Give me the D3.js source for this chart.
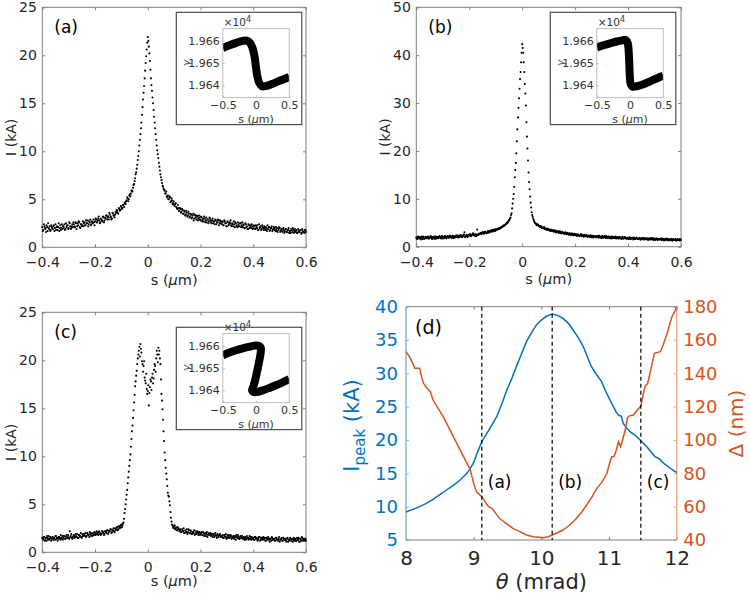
<!DOCTYPE html>
<html><head><meta charset="utf-8">
<script src="https://cdn.jsdelivr.net/npm/d3@7"></script>
<style>body{margin:0;background:#fff} svg{display:block} text{font-family:"DejaVu Sans",sans-serif}</style>
</head><body><svg id="c" width="750" height="595"></svg>
<script>
// ---------- data ----------
const sStart = -0.4, sStep = 0.004;   // sample positions of the current profiles (um); second set sits half a step later
const curA = [2.1,1.8,2.2,1.9,2.3,1.7,2.0,2.2,1.8,2.1,
1.9,2.3,2.0,1.8,2.2,2.1,1.7,2.3,2.0,1.9,
2.2,2.4,1.9,2.1,2.3,2.0,2.5,1.9,2.2,2.1,
2.4,2.1,2.5,2.2,2.3,2.6,2.0,2.4,2.3,2.2,
2.6,2.3,2.5,2.8,2.4,2.6,2.3,2.7,2.5,2.6,
2.7,2.9,2.6,3.0,2.8,2.6,2.9,2.7,3.1,2.8,
3.0,3.3,3.1,2.9,3.4,3.2,3.0,3.5,3.3,3.4,
3.6,3.8,3.5,4.0,3.9,4.2,4.1,4.4,4.6,4.5,
4.9,5.1,5.0,5.5,5.6,5.9,6.2,6.6,7.2,7.8,
8.6,9.5,10.6,11.8,13.0,14.6,16.1,17.6,19.2,20.6,
21.9,20.9,19.4,17.6,16.3,15.0,13.6,12.4,11.2,10.1,
9.3,8.4,7.6,7.0,6.4,6.1,5.9,5.6,5.3,5.4,
5.0,5.2,4.8,4.9,4.6,4.4,4.5,4.2,4.0,4.1,
3.8,4.0,3.7,3.9,3.5,3.7,3.4,3.6,3.3,3.5,
3.2,3.4,3.1,3.5,3.0,3.3,2.9,3.2,3.0,3.1,
2.8,3.1,2.9,2.7,3.0,2.8,2.6,2.9,2.7,3.0,
2.6,2.8,2.5,2.7,2.9,2.4,2.6,2.8,2.5,2.7,
2.4,2.6,2.3,2.7,2.5,2.2,2.6,2.4,2.5,2.3,
2.5,2.2,2.4,2.6,2.3,2.1,2.4,2.2,2.5,2.3,
2.1,2.3,2.0,2.4,2.2,1.9,2.3,2.1,2.0,2.2,
2.0,2.2,1.9,2.1,2.3,1.8,2.0,2.2,1.9,2.1,
1.8,2.0,2.1,1.7,1.9,2.1,1.8,2.0,1.7,1.9,
2.0,1.7,1.9,1.6,1.8,2.0,1.7,1.9,1.6,1.8,
1.7,1.9,1.6,1.8,1.5,1.7,1.9,1.6,1.8,1.7,
1.6,1.8,1.5,1.7,1.6,1.8,1.5,1.7,1.6,1.8,1.6];
const curA2 = [1.7,2.4,2.0,1.6,2.1,2.5,1.9,1.7,2.3,2.0,
2.2,1.7,2.4,2.1,1.8,2.5,2.0,1.8,2.4,2.2,
2.0,1.8,2.5,2.3,1.9,2.6,2.2,2.0,2.4,2.6,
2.2,2.6,1.9,2.5,2.7,2.1,2.4,2.2,2.7,2.5,
2.3,2.8,2.5,2.2,2.7,2.9,2.4,2.6,2.9,2.3,
3.0,2.6,2.8,3.2,2.5,3.0,2.8,3.2,2.6,3.1,
3.3,2.9,3.2,3.6,3.1,2.9,3.6,3.3,3.1,3.7,
3.9,3.6,4.1,3.8,4.3,4.0,4.4,4.2,4.7,4.8,
5.2,4.8,5.4,5.3,5.9,5.8,6.5,6.9,7.6,8.2,
9.1,10.0,11.2,12.4,13.8,15.4,16.8,18.4,19.9,21.3,
21.5,20.2,18.5,16.9,15.6,14.3,13.0,11.8,10.6,9.7,
8.8,8.0,7.3,6.7,6.3,6.0,5.6,5.8,5.2,5.0,
5.3,4.7,5.1,4.5,4.8,4.3,4.6,4.1,4.4,3.8,
4.1,3.6,4.0,3.5,3.8,3.3,3.8,3.2,3.7,3.1,
3.5,3.0,3.3,2.8,3.4,3.1,3.3,2.8,3.3,2.9,
3.2,2.7,3.0,3.2,2.6,3.1,2.9,2.5,3.1,2.8,
2.5,3.0,2.7,2.4,2.8,2.6,2.9,2.3,2.8,2.5,
2.7,2.3,2.8,2.5,2.2,2.7,2.3,2.6,2.8,2.2,
2.4,2.7,2.1,2.5,2.2,2.6,2.2,2.5,2.1,2.6,
2.4,2.0,2.5,2.1,1.9,2.4,2.0,2.3,2.4,1.9,
2.3,1.9,2.3,2.0,1.8,2.4,2.1,1.8,2.3,2.0,
2.2,1.8,1.9,2.3,2.1,1.7,2.0,2.2,1.8,2.1,
1.8,2.1,1.7,2.0,2.1,1.6,1.9,1.7,2.0,1.5,
1.9,1.6,1.8,2.0,1.7,1.5,1.8,2.0,1.5,1.9,
1.7,1.5,1.9,1.6,1.8,1.4,1.9,1.6,1.5,1.8];
const curB = [1.9,1.6,2.0,1.7,1.8,2.1,1.6,1.9,1.7,2.0,
1.8,2.1,1.7,1.9,2.0,1.6,1.9,2.1,1.8,1.7,
2.0,1.8,2.2,1.9,2.1,1.7,2.0,2.2,1.9,2.0,
2.1,1.9,2.3,2.0,2.2,1.8,2.1,2.3,2.0,2.1,
2.3,2.0,2.4,2.1,2.2,2.5,2.0,2.3,2.2,2.4,
2.4,2.6,2.3,2.5,2.7,2.3,2.5,2.6,2.4,2.7,
2.7,2.9,2.8,3.0,2.7,3.1,2.9,3.0,3.2,3.1,
3.2,3.4,3.3,3.5,3.4,3.6,3.5,3.8,3.7,3.9,
4.0,4.1,4.3,4.4,4.6,4.8,5.0,5.3,5.6,6.1,
7.0,9.0,11.0,14.5,17.5,22.0,27.0,31.0,35.0,38.5,
42.3,40.5,36.5,32.0,26.0,20.5,15.5,12.0,9.2,7.2,
6.2,5.5,5.0,4.8,4.5,4.6,4.3,4.1,4.2,3.9,
3.8,4.0,3.7,3.6,3.8,3.5,3.4,3.6,3.3,3.4,
3.2,3.3,3.1,3.0,3.2,2.9,3.1,2.8,3.0,2.9,
2.7,2.9,2.6,2.8,2.5,2.7,2.6,2.4,2.7,2.5,
2.4,2.6,2.3,2.5,2.2,2.4,2.6,2.3,2.1,2.4,
2.2,2.4,2.1,2.3,2.0,2.3,2.2,1.9,2.2,2.1,
2.0,2.2,1.9,2.1,2.0,1.8,2.1,1.9,2.2,1.8,
2.0,1.8,2.1,1.9,1.7,2.0,1.8,1.9,2.1,1.7,
1.9,1.7,2.0,1.8,1.6,1.9,1.7,2.0,1.8,1.6,
1.8,1.6,1.9,1.7,1.8,1.5,1.8,1.6,1.9,1.7,
1.6,1.8,1.5,1.7,1.6,1.8,1.5,1.7,1.6,1.4,
1.7,1.5,1.6,1.8,1.4,1.6,1.5,1.7,1.4,1.6,
1.5,1.7,1.4,1.6,1.3,1.5,1.7,1.4,1.6,1.5,
1.4,1.6,1.3,1.5,1.4,1.6,1.3,1.5,1.4,1.6,1.4];
const curB2 = [1.7,2.1,1.8,2.0,1.5,1.9,2.1,1.6,2.0,1.8,
2.0,1.7,1.9,2.2,1.7,2.0,1.8,1.6,2.1,1.9,
1.8,2.1,1.9,1.7,2.2,2.0,1.8,2.1,1.7,2.2,
1.9,2.2,2.0,1.8,2.3,2.1,1.9,2.2,2.4,1.9,
2.1,2.4,2.2,2.0,2.5,3.0,2.1,2.5,2.0,2.3,
2.6,2.2,2.5,2.8,2.4,2.6,2.2,3.6,2.5,2.6,
2.8,2.6,3.0,2.8,3.1,2.9,2.8,3.2,2.9,3.3,
3.1,3.5,3.2,3.6,3.3,3.7,3.6,3.7,3.9,3.8,
4.1,4.2,4.4,4.5,4.7,5.0,5.1,5.5,5.9,6.6,
8.0,10.0,12.5,16.0,19.5,24.5,29.0,33.0,36.5,40.5,
41.5,38.5,34.0,29.5,23.0,18.0,13.5,10.5,8.2,6.6,
5.8,5.2,4.9,4.6,4.7,4.4,4.2,4.3,4.0,3.9,
4.1,3.7,3.8,3.5,3.7,3.6,3.3,3.5,3.4,3.2,
3.4,3.0,3.3,3.1,2.9,3.2,2.8,3.1,2.9,2.7,
3.0,2.7,2.9,2.6,2.8,2.5,2.8,2.6,2.4,2.7,
2.5,2.3,2.6,2.4,2.3,2.6,2.2,2.4,2.5,2.2,
2.4,2.1,2.3,2.2,2.4,2.0,2.3,2.1,2.2,2.0,
2.2,2.0,2.3,1.9,2.1,2.2,1.9,2.1,2.0,2.2,
1.9,2.1,1.8,2.0,2.1,1.8,2.0,1.9,1.8,2.0,
1.8,2.0,1.7,1.9,2.0,1.7,1.9,1.8,1.7,1.9,
1.7,1.9,1.6,1.8,1.7,1.9,1.6,1.8,1.7,1.6,
1.8,1.5,1.7,1.8,1.5,1.7,1.6,1.8,1.5,1.7,
1.6,1.8,1.5,1.6,1.7,1.4,1.7,1.5,1.6,1.5,
1.6,1.4,1.7,1.5,1.6,1.4,1.5,1.6,1.3,1.5,
1.5,1.3,1.6,1.4,1.5,1.3,1.6,1.4,1.3,1.5];
const curC = [1.5,1.3,1.6,1.4,1.2,1.5,1.7,1.3,1.5,1.4,
1.6,1.4,1.3,1.7,1.5,1.4,1.6,1.3,1.5,1.7,
1.5,1.7,1.4,1.8,1.6,1.5,2.2,1.7,1.5,1.6,
1.8,1.6,1.7,1.9,1.5,1.8,1.7,1.6,1.9,1.7,
1.8,2.0,1.7,1.9,1.8,2.1,1.7,1.9,2.0,1.8,
2.0,1.9,2.1,1.8,2.2,2.0,1.9,2.2,2.1,1.9,
2.2,2.0,2.3,2.1,2.2,2.4,2.1,2.3,2.2,2.5,
2.4,2.6,2.4,2.7,2.6,2.9,2.8,3.1,4.1,5.0,
6.0,7.2,8.4,9.6,11.0,12.6,14.0,15.6,17.3,18.4,
19.6,20.6,21.4,21.7,20.8,19.6,19.4,18.2,17.6,17.0,
16.8,15.3,17.2,17.8,18.2,17.6,19.0,19.4,20.2,20.6,
21.3,21.0,19.6,16.5,14.9,12.6,10.4,8.8,7.6,6.2,
5.8,4.9,3.6,2.9,2.6,2.7,2.4,2.6,2.3,2.5,
2.2,2.4,2.1,2.3,2.5,2.0,2.2,2.4,2.1,2.3,
2.0,2.2,1.9,2.1,2.3,1.9,2.0,2.2,1.8,2.1,
1.9,2.1,1.8,2.0,1.9,1.7,2.1,1.8,2.0,1.9,
1.7,1.9,1.8,1.6,2.0,1.7,1.9,1.6,1.8,1.7,
1.6,1.8,1.5,1.7,1.9,1.6,1.5,1.8,1.6,1.7,
1.5,1.7,1.4,1.6,1.8,1.5,1.6,1.4,1.7,1.5,
1.4,1.6,1.5,1.3,1.7,1.5,1.4,1.6,1.3,1.5,
1.5,1.3,1.6,1.4,1.2,1.5,1.6,1.3,1.4,1.5,
1.3,1.5,1.2,1.4,1.6,1.3,1.4,1.2,1.5,1.3,
1.4,1.2,1.5,1.3,1.4,1.1,1.3,1.5,1.2,1.4,
1.3,1.2,1.4,1.1,1.3,1.5,1.2,1.4,1.3,1.2,
1.4,1.2,1.3,1.5,1.1,1.3,1.6,1.2,1.4,1.3,1.2];
const curC2 = [1.4,1.6,1.2,1.5,1.7,1.3,1.4,1.6,1.2,1.6,
1.3,1.5,1.7,1.4,1.2,1.6,1.5,1.8,1.4,1.3,
1.7,1.4,1.6,1.5,1.8,1.4,1.6,1.9,1.4,1.7,
1.5,1.9,1.6,1.5,1.8,1.6,2.0,1.5,1.7,1.9,
1.7,1.6,2.0,1.8,1.6,1.9,2.0,1.7,1.8,2.1,
1.8,2.2,1.9,2.1,1.9,1.8,2.2,2.0,1.8,2.2,
2.1,2.3,1.9,2.2,2.4,2.0,2.3,2.5,2.1,2.3,
2.6,2.3,2.7,2.5,2.8,2.6,3.0,3.5,4.5,5.5,
6.5,7.8,9.0,10.2,11.8,13.2,14.8,16.4,17.8,18.9,
20.2,21.0,20.4,21.2,19.9,18.8,19.9,17.9,18.6,16.5,
17.4,16.6,18.0,16.9,18.6,18.1,19.6,18.8,21.0,19.8,
20.6,20.2,18.0,15.8,13.8,11.6,9.6,8.2,6.9,5.9,
5.3,4.2,3.2,2.8,2.5,2.8,2.5,2.3,2.6,2.4,
2.3,2.1,2.4,2.2,2.0,2.3,2.1,1.9,2.4,2.0,
2.3,1.9,2.1,2.0,1.8,2.2,1.9,2.1,2.0,1.8,
2.0,1.8,2.1,1.7,2.0,1.9,1.6,1.9,1.8,2.0,
1.8,1.6,1.9,1.7,1.8,1.5,1.8,1.7,1.9,1.6,
1.7,1.5,1.8,1.6,1.4,1.8,1.7,1.5,1.8,1.4,
1.6,1.5,1.7,1.3,1.6,1.8,1.4,1.6,1.5,1.7,
1.5,1.3,1.6,1.4,1.5,1.3,1.7,1.4,1.6,1.4,
1.3,1.6,1.4,1.5,1.3,1.6,1.2,1.5,1.3,1.6,
1.4,1.2,1.5,1.3,1.5,1.1,1.4,1.6,1.3,1.4,
1.2,1.5,1.3,1.2,1.6,1.3,1.4,1.2,1.5,1.3,
1.4,1.1,1.5,1.3,1.2,1.4,1.3,1.1,1.5,1.3,
1.2,1.5,1.3,1.1,1.4,1.2,1.5,1.3,1.2,1.4];

const sTicks = [-0.4,-0.2,0,0.2,0.4,0.6];
const iTicks25 = [0,5,10,15,20,25];
const iTicks50 = [0,10,20,30,40,50];

// inset phase space (s in um, gamma / 1e4): centre line of the particle band
const bandAs = [-0.5,-0.4,-0.3,-0.2,-0.14,-0.09,-0.05,-0.02,0.0,0.02,0.05,0.09,0.15,0.25,0.35,0.5];
const bandAg = [1.96568,1.96580,1.96591,1.96600,1.96601,1.96590,1.96565,1.96525,1.96480,1.96440,1.96410,1.96396,1.96397,1.96407,1.96420,1.96438];
const bandBs = [-0.5,-0.4,-0.3,-0.2,-0.1,-0.06,-0.035,-0.02,-0.01,-0.003,0.01,0.04,0.1,0.2,0.3,0.4,0.5];
const bandBg = [1.96570,1.96580,1.96589,1.96597,1.96603,1.96603,1.96590,1.96550,1.96490,1.96440,1.96405,1.96394,1.96396,1.96405,1.96418,1.96431,1.96444];
const bandCs = [-0.5,-0.4,-0.3,-0.2,-0.1,-0.02,0.04,0.07,0.07,0.05,0.02,-0.01,-0.04,-0.06,-0.04,0.0,0.1,0.2,0.3,0.4,0.5];
const bandCg = [1.96558,1.96570,1.96580,1.96589,1.96596,1.96601,1.96601,1.96593,1.96570,1.96535,1.96490,1.96450,1.96418,1.96400,1.96393,1.96392,1.96400,1.96411,1.96423,1.96436,1.96450];
const insetSTicks = [-0.5,0,0.5];
const insetGTicks = [1.964,1.965,1.966];

// panel (d)
const thetaI = [8.0,8.1,8.2,8.3,8.4,8.5,8.6,8.7,8.8,8.9,8.95,9.0,9.04,9.12,9.24,9.34,9.42,9.49,9.57,9.64,9.71,9.78,9.86,9.93,10.0,10.08,10.16,10.24,10.32,10.4,10.47,10.55,10.62,10.68,10.74,10.81,10.89,10.96,11.04,11.1,11.14,11.18,11.21,11.26,11.31,11.4,11.47,11.56,11.62,11.68,11.74,11.81,11.9,12.0];
const peakI = [9.2,9.6,10.0,10.5,11.1,11.8,12.5,13.2,14.0,15.0,15.75,16.6,17.75,19.75,21.75,23.5,25.5,27.5,29.4,31.25,33.0,34.75,36.2,37.3,38.0,38.6,38.9,38.7,38.25,37.5,36.5,35.3,34.0,32.5,31.0,29.9,28.75,27.1,25.5,24.3,23.7,23.6,22.5,21.8,21.25,20.6,19.9,19.0,18.2,17.5,17.2,16.5,15.8,15.1];
const thetaD = [8.0,8.05,8.1,8.13,8.2,8.23,8.26,8.33,8.36,8.4,8.55,8.7,8.85,8.95,9.0,9.04,9.12,9.22,9.27,9.29,9.38,9.48,9.58,9.68,9.78,9.88,9.96,10.03,10.1,10.16,10.24,10.32,10.42,10.52,10.6,10.67,10.75,10.82,10.9,10.97,11.0,11.04,11.07,11.1,11.14,11.17,11.2,11.24,11.27,11.3,11.36,11.42,11.47,11.5,11.53,11.57,11.61,11.67,11.76,11.8,11.86,11.9,11.93,11.97,12.0];
const deltaNm = [153,150,146,143,143,138,134,130,129,124,114,102,90,82,74,69,66,60,59,58,53,50,47,45,43,42,41.6,41.3,42,43,44.5,46,49,53,57,61,66,71,75,80,85,90,90,93,99,96,100,106,113,114.5,115,118,120.5,126,132,134,141,152,153,157,164,170,174,177,180];
const thetaTicks = [8,9,10,11,12];
const peakTicks = [5,10,15,20,25,30,35,40];
const deltaTicks = [40,60,80,100,120,140,160,180];
const markTheta = [9.12,10.16,11.47];
const markLabels = ["(a)","(b)","(c)"];

// ---------- drawing ----------
const svg = d3.select("#c");
const TXT = "#262626", FRAME = "#7f7f7f", BLUE = "#0072BD", ORANGE = "#D95319";
const fmt = d3.format("~g");
const sGrid = d3.range(curA.length).map(i => +(sStart + i * sStep).toFixed(4));
const sGrid2 = d3.range(curA2.length).map(i => +(sStart + sStep / 2 + i * sStep).toFixed(4));

function styleAxis(sel, size, color, lineColor) {
  sel.attr("font-family", null).attr("font-size", size);
  sel.select(".domain").remove();
  sel.selectAll(".tick line").attr("stroke", lineColor);
  sel.selectAll(".tick text").attr("fill", color);
}
function muLabel(g, x, y, size, pre, post) {
  const t = g.append("text").attr("x", x).attr("y", y).attr("text-anchor", "middle")
    .attr("font-size", size).attr("fill", TXT);
  t.append("tspan").text(pre);
  t.append("tspan").attr("font-style", "italic").text("μ");
  t.append("tspan").text(post);
  return t;
}

let clipId = 0;
function inset(g, box, outerTop, bs, bg) {
  const ix0 = box.x0 + 180.5, ix1 = box.x0 + 247, iy0 = box.y0 + 21.3, iy1 = box.y0 + 90.3;
  const oy0 = box.y0 + outerTop, oy1 = box.y0 + 117.3;
  g.append("rect").attr("x", box.x0 + 134).attr("y", oy0).attr("width", 125.5).attr("height", oy1 - oy0)
    .attr("fill", "#fff").attr("stroke", "#4d4d4d").attr("stroke-width", 1.2);
  const xs = d3.scaleLinear().domain([-0.5, 0.5]).range([ix0, ix1]);
  const ys = d3.scaleLinear().domain([1.96345, 1.96655]).range([iy1, iy0]);
  const id = "clip" + (clipId++);
  g.append("clipPath").attr("id", id).append("rect").attr("x", ix0).attr("y", iy0).attr("width", ix1 - ix0).attr("height", iy1 - iy0);
  const pts = bs.map((s, i) => [s, bg[i]]);
  g.append("path").attr("clip-path", `url(#${id})`)
    .attr("d", d3.line().x(d => xs(d[0])).y(d => ys(d[1])).curve(d3.curveCatmullRom)(pts))
    .attr("fill", "none").attr("stroke", "#000").attr("stroke-width", 8).attr("stroke-linejoin", "round");
  g.append("rect").attr("x", ix0).attr("y", iy0).attr("width", ix1 - ix0).attr("height", iy1 - iy0)
    .attr("fill", "none").attr("stroke", "#bdbdbd").attr("stroke-width", 1);
  const ax = g.append("g").attr("transform", `translate(0,${iy1})`)
    .call(d3.axisBottom(xs).tickValues(insetSTicks).tickFormat(fmt).tickSizeInner(-2).tickSizeOuter(0).tickPadding(4));
  styleAxis(ax, 11, "#333", "#bdbdbd");
  const ay = g.append("g").attr("transform", `translate(${ix0},0)`)
    .call(d3.axisLeft(ys).tickValues(insetGTicks).tickFormat(d3.format(".3f")).tickSizeInner(-2).tickSizeOuter(0).tickPadding(3));
  styleAxis(ay, 11, "#333", "#bdbdbd");
  const ex = g.append("text").attr("x", ix0 + 1).attr("y", iy0 - 3).attr("font-size", 10.5).attr("fill", "#333");
  ex.append("tspan").text("×10");
  ex.append("tspan").attr("dy", -4).attr("font-size", 8).text("4");
  g.append("text").attr("transform", `translate(${ix0 - 33},${(iy0 + iy1) / 2}) rotate(-90)`)
    .attr("text-anchor", "middle").attr("font-size", 11).attr("fill", "#555").attr("font-style", "italic").text("γ");
  muLabel(g, (ix0 + ix1) / 2, iy1 + 25, 11, "s (", "m)").attr("fill", "#333");
}

function panel(box, yMax, yTicks, cur, cur2, tag, outerTop, xlabOff, band) {
  const g = svg.append("g");
  const x = d3.scaleLinear().domain([-0.4, 0.6]).range([box.x0, box.x1]);
  const y = d3.scaleLinear().domain([0, yMax]).range([box.y1, box.y0]);
  const b = g.append("g").attr("transform", `translate(0,${box.y1})`)
    .call(d3.axisBottom(x).tickValues(sTicks).tickFormat(fmt).tickSizeInner(-3).tickSizeOuter(0).tickPadding(10));
  styleAxis(b, 14, TXT, FRAME);
  const t = g.append("g").attr("transform", `translate(0,${box.y0})`)
    .call(d3.axisTop(x).tickValues(sTicks).tickFormat("").tickSizeInner(-3).tickSizeOuter(0));
  styleAxis(t, 14, TXT, FRAME);
  const l = g.append("g").attr("transform", `translate(${box.x0},0)`)
    .call(d3.axisLeft(y).tickValues(yTicks).tickFormat(fmt).tickSizeInner(-3).tickSizeOuter(0).tickPadding(5.5));
  styleAxis(l, 14, TXT, FRAME);
  const r = g.append("g").attr("transform", `translate(${box.x1},0)`)
    .call(d3.axisRight(y).tickValues(yTicks).tickFormat("").tickSizeInner(-3).tickSizeOuter(0));
  styleAxis(r, 14, TXT, FRAME);
  g.append("rect").attr("x", box.x0).attr("y", box.y0).attr("width", box.x1 - box.x0).attr("height", box.y1 - box.y0)
    .attr("fill", "none").attr("stroke", FRAME).attr("stroke-width", 1);
  const dots = g.append("g").attr("fill", "#000");
  dots.selectAll("circle.p1").data(cur).join("circle").attr("class", "p1")
    .attr("cx", (d, i) => x(sGrid[i])).attr("cy", d => y(d)).attr("r", 1.05);
  dots.selectAll("circle.p2").data(cur2).join("circle").attr("class", "p2")
    .attr("cx", (d, i) => x(sGrid2[i])).attr("cy", d => y(d)).attr("r", 1.05);
  g.append("text").attr("x", box.x0 + 12).attr("y", box.y0 + 26).attr("font-size", 17).attr("fill", "#000").text(tag);
  g.append("text").attr("transform", `translate(${box.x0 - 31},${(box.y0 + box.y1) / 2 + 10}) rotate(-90)`)
    .attr("dy", "0.35em").attr("text-anchor", "middle").attr("font-size", 14).attr("fill", TXT).text("I (kA)");
  muLabel(g, (box.x0 + box.x1) / 2, box.y1 + xlabOff, 14.5, "s (", "m)");
  inset(g, box, outerTop, band[0], band[1]);
}

panel({x0: 42.3, x1: 306, y0: 7.3, y1: 247.3}, 25, iTicks25, curA, curA2, "(a)", 5, 37.5, [bandAs, bandAg]);
panel({x0: 416.3, x1: 681, y0: 7.3, y1: 246.7}, 50, iTicks50, curB, curB2, "(b)", 5, 37.5, [bandBs, bandBg]);
panel({x0: 42.3, x1: 306, y0: 312.3, y1: 552.3}, 25, iTicks25, curC, curC2, "(c)", 15, 34, [bandCs, bandCg]);

// ---- panel (d)
(function () {
  const box = {x0: 406, x1: 676.7, y0: 306.7, y1: 540};
  const g = svg.append("g");
  const xT = d3.scaleLinear().domain([8, 12]).range([box.x0, box.x1]);
  const yL = d3.scaleLinear().domain([5, 40]).range([box.y1, box.y0]);
  const yR = d3.scaleLinear().domain([40, 180]).range([box.y1, box.y0]);
  const b = g.append("g").attr("transform", `translate(0,${box.y1})`)
    .call(d3.axisBottom(xT).tickValues(thetaTicks).tickFormat(fmt).tickSizeInner(-3).tickSizeOuter(0).tickPadding(11));
  styleAxis(b, 20, TXT, FRAME);
  const t = g.append("g").attr("transform", `translate(0,${box.y0})`)
    .call(d3.axisTop(xT).tickValues(thetaTicks).tickFormat("").tickSizeInner(-3).tickSizeOuter(0));
  styleAxis(t, 20, TXT, FRAME);
  const l = g.append("g").attr("transform", `translate(${box.x0},0)`)
    .call(d3.axisLeft(yL).tickValues(peakTicks).tickFormat(fmt).tickSizeInner(-3).tickSizeOuter(0).tickPadding(8));
  styleAxis(l, 18, BLUE, "#7fb8e6");
  const r = g.append("g").attr("transform", `translate(${box.x1},0)`)
    .call(d3.axisRight(yR).tickValues(deltaTicks).tickFormat(fmt).tickSizeInner(-3).tickSizeOuter(0).tickPadding(6.5));
  styleAxis(r, 18, ORANGE, "#f0a98c");
  g.append("line").attr("x1", box.x0).attr("x2", box.x1).attr("y1", box.y0).attr("y2", box.y0).attr("stroke", FRAME);
  g.append("line").attr("x1", box.x0).attr("x2", box.x1).attr("y1", box.y1).attr("y2", box.y1).attr("stroke", FRAME);
  g.append("line").attr("x1", box.x0).attr("x2", box.x0).attr("y1", box.y0).attr("y2", box.y1).attr("stroke", "#7fb8e6").attr("stroke-width", 1.5);
  g.append("line").attr("x1", box.x1).attr("x2", box.x1).attr("y1", box.y0).attr("y2", box.y1).attr("stroke", "#f0a98c").attr("stroke-width", 1.5);

  g.append("path").attr("d", d3.line().x((d, i) => xT(thetaI[i])).y(d => yL(d))(peakI))
    .attr("fill", "none").attr("stroke", BLUE).attr("stroke-width", 1.5);
  g.append("path").attr("d", d3.line().x((d, i) => xT(thetaD[i])).y(d => yR(d))(deltaNm))
    .attr("fill", "none").attr("stroke", ORANGE).attr("stroke-width", 1.5);

  g.selectAll("line.mark").data(markTheta).join("line").attr("class", "mark")
    .attr("x1", d => xT(d)).attr("x2", d => xT(d)).attr("y1", box.y0).attr("y2", box.y1)
    .attr("stroke", "#000").attr("stroke-width", 1.2).attr("stroke-dasharray", "4,3");
  g.selectAll("text.mark").data(markTheta).join("text").attr("class", "mark")
    .attr("x", d => xT(d) + 6).attr("y", 488).attr("font-size", 17).attr("fill", "#000")
    .text((d, i) => markLabels[i]);
  g.append("text").attr("x", box.x0 + 9).attr("y", box.y0 + 27).attr("font-size", 19).attr("fill", "#000").text("(d)");

  const xl = g.append("text").attr("x", (box.x0 + box.x1) / 2).attr("y", 589).attr("text-anchor", "middle")
    .attr("font-size", 21).attr("fill", TXT);
  xl.append("tspan").attr("font-style", "italic").text("θ");
  xl.append("tspan").text(" (mrad)");

  const yl = g.append("text").attr("transform", "translate(359,425.5) rotate(-90)").attr("text-anchor", "middle")
    .attr("font-size", 21).attr("fill", BLUE);
  yl.append("tspan").text("I");
  yl.append("tspan").attr("font-size", 15).attr("dy", 6).text("peak");
  yl.append("tspan").attr("dy", -6).text(" (kA)");

  g.append("text").attr("transform", "translate(743,423.5) rotate(-90)").attr("text-anchor", "middle")
    .attr("font-size", 20).attr("fill", ORANGE).text("Δ (nm)");
})();
</script></body></html>
